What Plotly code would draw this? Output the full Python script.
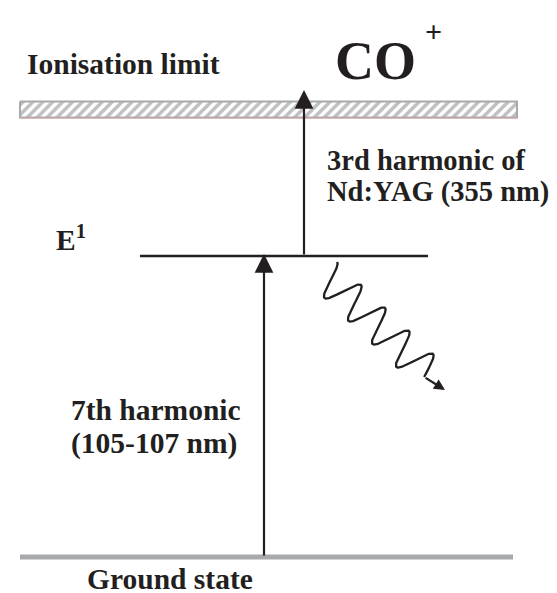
import numpy as np
import plotly.graph_objects as go

# energy level diagram, drawn in a 557 x 593 canvas frame (y grows downward)
level_names = ["Ground state", "E1", "Ionisation limit"]
level_y = [549, 248, 101.5]
level_x0 = [12, 132, 12]
level_x1 = [505, 420, 509]
ion_half = 8

# excitation steps: x position, from level, to arrow tip
step_x = [256, 296]
step_from = [549, 248]
step_to = [246, 82]

# fluorescence (wavy decay) out of E1
wave_start = [316.75, 266.25]
wave_step = [24, 23]
wave_amp = [12.25, -12.25]
wave_cycles = 4.3
wave_tip = [437, 382]

INK = "#231f20"
GREY = "#a7a9ac"
FONT = "Liberation Serif"

fig = go.Figure()

# ionisation limit: hatched band
y0, y1 = level_y[2] - ion_half, level_y[2] + ion_half
fig.add_trace(go.Scatter(
    x=[level_x0[2], level_x1[2], level_x1[2], level_x0[2], level_x0[2]],
    y=[y0, y0, y1, y1, y0],
    mode="lines", fill="toself",
    line=dict(color=GREY, width=2),
    fillcolor="white",
    fillpattern=dict(shape="/", fgcolor="#808285", bgcolor="white", size=7, solidity=0.5),
    hoverinfo="skip", showlegend=False,
))
fig.add_trace(go.Scatter(
    x=[level_x0[2], level_x1[2]], y=[y1 + 0.5, y1 + 0.5],
    mode="lines", line=dict(color="#d8a4a4", width=1),
    hoverinfo="skip", showlegend=False,
))

# ground state
fig.add_trace(go.Scatter(
    x=[level_x0[0], level_x1[0]], y=[level_y[0], level_y[0]],
    mode="lines", line=dict(color=GREY, width=5),
    hoverinfo="skip", showlegend=False,
))

# E1 level
fig.add_trace(go.Scatter(
    x=[level_x0[1], level_x1[1]], y=[level_y[1], level_y[1]],
    mode="lines", line=dict(color=INK, width=2.6),
    hoverinfo="skip", showlegend=False,
))

# wavy decay line
s = np.linspace(0, wave_cycles, 400)
wx = wave_start[0] + s * wave_step[0] + wave_amp[0] * np.cos(2 * np.pi * s)
wy = wave_start[1] + s * wave_step[1] + wave_amp[1] * np.cos(2 * np.pi * s)
fig.add_trace(go.Scatter(
    x=wx, y=wy, mode="lines", line=dict(color=INK, width=2.3),
    hoverinfo="skip", showlegend=False,
))
fig.add_annotation(
    x=wave_tip[0], y=wave_tip[1], ax=wx[-1], ay=wy[-1],
    xref="x", yref="y", axref="x", ayref="y", text="",
    showarrow=True, arrowhead=2, arrowsize=0.95, arrowwidth=2.3, arrowcolor=INK,
)

# excitation arrows
for x, ya, yb in zip(step_x, step_from, step_to):
    fig.add_annotation(
        x=x, y=yb, ax=x, ay=ya,
        xref="x", yref="y", axref="x", ayref="y", text="",
        showarrow=True, arrowhead=2, arrowsize=1.7, arrowwidth=2.2, arrowcolor=INK,
    )

# (left x, centre y, text, font size)
labels = [
    (17, 56, "<b>Ionisation limit</b>", 29.5),
    (325, 53, "<b>CO</b>", 54),
    (415, 23, "<b>+</b>", 30),
    (317, 152, "<b>3rd harmonic of</b>", 28.5),
    (317, 184, "<b>Nd:YAG (355 nm)</b>", 28.5),
    (61, 402, "<b>7th harmonic</b>", 29.5),
    (61, 435, "<b>(105-107 nm)</b>", 29.5),
    (77, 571, "<b>Ground state</b>", 29.5),
]
for x, y, t, size in labels:
    fig.add_annotation(
        x=x, y=y, xref="x", yref="y", text=t, showarrow=False,
        xanchor="left", yanchor="middle",
        font=dict(family=FONT, size=size, color=INK),
    )

# E1 label (anchored at bottom so the superscript does not shift it)
fig.add_annotation(
    x=46, y=250.4, xref="x", yref="y", text="<b>E<sup>1</sup></b>",
    showarrow=False, xanchor="left", yanchor="bottom",
    font=dict(family=FONT, size=29.5, color=INK),
)

fig.update_xaxes(range=[0, 557], visible=False, fixedrange=True)
fig.update_yaxes(range=[593, 0], visible=False, fixedrange=True)
fig.update_layout(
    width=557, height=593,
    margin=dict(l=0, r=0, t=0, b=0),
    paper_bgcolor="white", plot_bgcolor="white",
    showlegend=False,
)

fig.write_html("out.html")
